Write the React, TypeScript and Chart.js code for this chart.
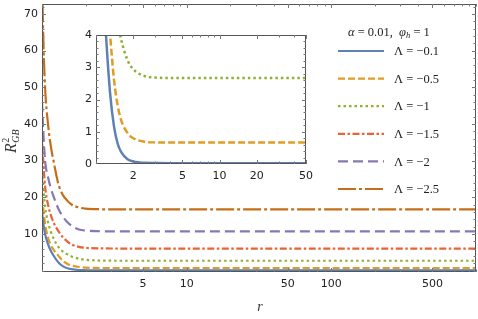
import React, { useEffect, useRef } from 'react';
import { Chart, registerables } from 'chart.js';
Chart.register(...registerables);

// ---- data ----
const rValues = [1, 1.02, 1.05, 1.1, 1.15, 1.2, 1.3, 1.4, 1.5, 1.6, 1.8, 2, 2.5, 3, 4, 5, 10, 100, 1000];
const lambdaLabels = ['Λ = −0.1', 'Λ = −0.5', 'Λ = −1', 'Λ = −1.5', 'Λ = −2', 'Λ = −2.5'];
const seriesL01 = [16, 13, 10, 7.2, 5.4, 4.1, 2.2, 1.15, 0.62, 0.37, 0.15, 0.08, 0.035, 0.03, 0.027, 0.027, 0.027, 0.027, 0.027];
const seriesL05 = [20, 17, 12.8, 9.0, 7.0, 5.7, 4.0, 2.6, 1.8, 1.35, 0.96, 0.8, 0.69, 0.67, 0.667, 0.667, 0.667, 0.667, 0.667];
const seriesL1 = [27, 23, 17.5, 13.2, 10.6, 8.8, 6.4, 5.1, 4.4, 3.85, 3.22, 2.94, 2.72, 2.68, 2.667, 2.667, 2.667, 2.667, 2.667];
const seriesL15 = [35, 30, 23, 18, 15.2, 13.2, 10.7, 9.0, 7.9, 7.1, 6.45, 6.2, 6.05, 6.01, 6.0, 6.0, 6.0, 6.0, 6.0];
const seriesL2 = [46, 38, 30, 25.5, 22.5, 20.3, 16.8, 14.6, 13.2, 12.2, 11.2, 10.9, 10.72, 10.68, 10.667, 10.667, 10.667, 10.667, 10.667];
const seriesL25 = [80, 64, 50, 40, 34, 30, 23.5, 20.5, 19, 18, 17.2, 16.9, 16.72, 16.68, 16.667, 16.667, 16.667, 16.667, 16.667];
const allSeries = [seriesL01, seriesL05, seriesL1, seriesL15, seriesL2, seriesL25];

const mainXTickLabels = [5, 10, 50, 100, 500];
const mainYTickLabels = [10, 20, 30, 40, 50, 60, 70];
const insetXTickLabels = [2, 5, 10, 20, 50];
const insetYTickLabels = [0, 1, 2, 3, 4];
const insetSeriesCount = 3;

// ---- styles ----
const colors = ['#5E81B5', '#E19C24', '#8FB032', '#EB6235', '#8778B3', '#C56E1A'];
const dashes: number[][] = [[], [7, 3], [2.5, 3], [7, 2.5, 2.5, 2.5], [10, 5], [18, 3, 3, 3]];
const TICK_FONT = '11px "DejaVu Sans"';
const TICK_COLOR = '#222';
const FRAME_COLOR = '#555';

function logTicks(min: number, max: number): number[] {
  const out: number[] = [];
  for (let d = 1; d <= max; d *= 10) {
    for (let k = 1; k <= 9; k++) {
      const v = k * d;
      if (v >= min - 1e-9 && v <= max + 1e-9) out.push(v);
    }
  }
  return out;
}
function linTicks(min: number, max: number, step: number): number[] {
  const out: number[] = [];
  for (let v = Math.ceil(min / step) * step; v <= max + 1e-9; v += step) out.push(Math.round(v * 1000) / 1000);
  return out;
}

function drawFrameAndTicks(chart: any, xMinor: number[], xMajor: number[], yMinor: number[], yMajor: number[]) {
  const { ctx, chartArea: a, scales } = chart;
  const x = scales.x, y = scales.y;
  ctx.save();
  ctx.strokeStyle = FRAME_COLOR;
  ctx.lineWidth = 1;
  ctx.strokeRect(Math.round(a.left) + 0.5, Math.round(a.top) + 0.5, Math.round(a.right - a.left) - 1, Math.round(a.bottom - a.top) - 1);
  ctx.strokeStyle = '#777';
  const tick = (px: number, len: number, vertical: boolean) => {
    ctx.beginPath();
    if (vertical) {
      const xx = Math.round(px) + 0.5;
      ctx.moveTo(xx, a.bottom); ctx.lineTo(xx, a.bottom - len);
      ctx.moveTo(xx, a.top); ctx.lineTo(xx, a.top + len);
    } else {
      const yy = Math.round(px) + 0.5;
      ctx.moveTo(a.left, yy); ctx.lineTo(a.left + len, yy);
      ctx.moveTo(a.right, yy); ctx.lineTo(a.right - len, yy);
    }
    ctx.stroke();
  };
  xMinor.forEach(v => tick(x.getPixelForValue(v), xMajor.includes(v) ? 4 : 2.5, true));
  yMinor.forEach(v => {
    const p = y.getPixelForValue(v);
    if (p < a.top + 1 || p > a.bottom - 1) return;
    tick(p, yMajor.includes(v) ? 4 : 2.5, false);
  });
  ctx.restore();
}

function drawRich(ctx: CanvasRenderingContext2D, x: number, y: number, parts: { t: string; font: string; dy?: number }[]) {
  let cx = x;
  for (const p of parts) {
    ctx.font = p.font;
    ctx.fillText(p.t, cx, y + (p.dy || 0));
    cx += ctx.measureText(p.t).width;
  }
  return cx;
}

function makeDatasets(count: number) {
  return allSeries.slice(0, count).map((s, i) => ({
    label: lambdaLabels[i],
    data: rValues.map((r, j) => ({ x: r, y: s[j] })),
    borderColor: colors[i],
    borderWidth: 2.2,
    borderDash: dashes[i],
    pointRadius: 0,
    fill: false,
    cubicInterpolationMode: 'monotone' as const,
  }));
}

export default function App() {
  const mainRef = useRef<HTMLCanvasElement>(null);
  const insetRef = useRef<HTMLCanvasElement>(null);

  useEffect(() => {
    const mainPlugin = {
      id: 'mainDecor',
      afterDraw(chart: any) {
        const { ctx, chartArea: a, scales } = chart;
        drawFrameAndTicks(chart, logTicks(1, 1000), mainXTickLabels, linTicks(0, 72, 2), mainYTickLabels);
        ctx.save();
        ctx.fillStyle = TICK_COLOR;
        ctx.font = TICK_FONT;
        ctx.textAlign = 'center';
        ctx.textBaseline = 'middle';
        mainXTickLabels.forEach(v => ctx.fillText(String(v), scales.x.getPixelForValue(v), a.bottom + 12));
        ctx.textAlign = 'right';
        mainYTickLabels.forEach(v => ctx.fillText(String(v), a.left - 4, scales.y.getPixelForValue(v)));
        // axis titles
        ctx.fillStyle = '#333';
        ctx.textAlign = 'center';
        ctx.font = 'italic 14px "Liberation Serif"';
        ctx.fillText('r', (a.left + a.right) / 2 + 1, a.bottom + 35);
        ctx.save();
        ctx.translate(16, 153);
        ctx.rotate(-Math.PI / 2);
        ctx.textAlign = 'left';
        ctx.textBaseline = 'alphabetic';
        const rEnd = drawRich(ctx, 0, 0, [{ t: 'R', font: 'italic 16px "Liberation Serif"' }]);
        ctx.font = '10px "Liberation Serif"';
        ctx.fillText('2', rEnd + 0.5, -7);
        ctx.font = 'italic 10px "Liberation Serif"';
        ctx.fillText('GB', rEnd + 0.5, 3);
        ctx.restore();
        // legend
        ctx.textAlign = 'left';
        ctx.textBaseline = 'alphabetic';
        ctx.fillStyle = '#222';
        drawRich(ctx, 348, 36, [
          { t: 'α', font: 'italic 12.5px "Liberation Serif"' },
          { t: ' = 0.01,  ', font: '12.5px "Liberation Serif"' },
          { t: 'φ', font: 'italic 12.5px "Liberation Serif"' },
          { t: 'h', font: 'italic 8.5px "Liberation Serif"', dy: 2 },
          { t: ' = 1', font: '12.5px "Liberation Serif"' },
        ]);
        lambdaLabels.forEach((lab, i) => {
          const yy = 51 + i * 27.6;
          ctx.save();
          ctx.strokeStyle = colors[i];
          ctx.lineWidth = 2.2;
          ctx.setLineDash(dashes[i]);
          ctx.beginPath();
          ctx.moveTo(338, yy);
          ctx.lineTo(384, yy);
          ctx.stroke();
          ctx.restore();
          ctx.fillStyle = '#222';
          ctx.font = '12.5px "Liberation Serif"';
          ctx.textBaseline = 'middle';
          ctx.fillText(lab, 394, yy + 1);
        });
        ctx.restore();
      },
    };

    const main = new Chart(mainRef.current!, {
      type: 'line',
      data: { datasets: makeDatasets(6) },
      options: {
        animation: false,
        responsive: false,
        events: [],
        layout: { padding: { left: 42, top: 4, right: 2, bottom: 47 } },
        plugins: { legend: { display: false }, tooltip: { enabled: false } },
        scales: {
          x: { type: 'logarithmic', min: 1, max: 1000, display: false },
          y: { type: 'linear', min: -0.4, max: 72.7, display: false },
        },
      },
      plugins: [mainPlugin],
    });

    const insetPlugin = {
      id: 'insetDecor',
      beforeDraw(chart: any) {
        const { ctx, chartArea: a } = chart;
        ctx.save();
        ctx.fillStyle = '#fff';
        ctx.fillRect(a.left, a.top, a.right - a.left, a.bottom - a.top);
        ctx.restore();
      },
      afterDraw(chart: any) {
        const { ctx, chartArea: a, scales } = chart;
        drawFrameAndTicks(chart, logTicks(1, 50), insetXTickLabels, linTicks(0, 4, 0.2), insetYTickLabels);
        ctx.save();
        ctx.fillStyle = TICK_COLOR;
        ctx.font = TICK_FONT;
        ctx.textAlign = 'center';
        ctx.textBaseline = 'middle';
        insetXTickLabels.forEach(v => ctx.fillText(String(v), scales.x.getPixelForValue(v), a.bottom + 12));
        ctx.textAlign = 'right';
        insetYTickLabels.forEach(v => ctx.fillText(String(v), a.left - 4, scales.y.getPixelForValue(v)));
        ctx.restore();
      },
    };

    const inset = new Chart(insetRef.current!, {
      type: 'line',
      data: { datasets: makeDatasets(insetSeriesCount).map(d => ({ ...d, borderWidth: 2.5 })) },
      options: {
        animation: false,
        responsive: false,
        events: [],
        layout: { padding: { left: 36, top: 15, right: 14, bottom: 36 } },
        plugins: { legend: { display: false }, tooltip: { enabled: false } },
        scales: {
          x: { type: 'logarithmic', min: 1, max: 50, display: false },
          y: { type: 'linear', min: 0, max: 4, display: false },
        },
      },
      plugins: [insetPlugin],
    });

    return () => {
      main.destroy();
      inset.destroy();
    };
  }, []);

  return (
    <div style={{ position: 'fixed', left: 0, top: 0, width: 478, height: 319, background: '#fff' }}>
      <canvas ref={mainRef} width={478} height={319} style={{ position: 'absolute', left: 0, top: 0, width: 478, height: 319 }} />
      <canvas ref={insetRef} width={260} height={180} style={{ position: 'absolute', left: 60, top: 20, width: 260, height: 180 }} />
    </div>
  );
}
